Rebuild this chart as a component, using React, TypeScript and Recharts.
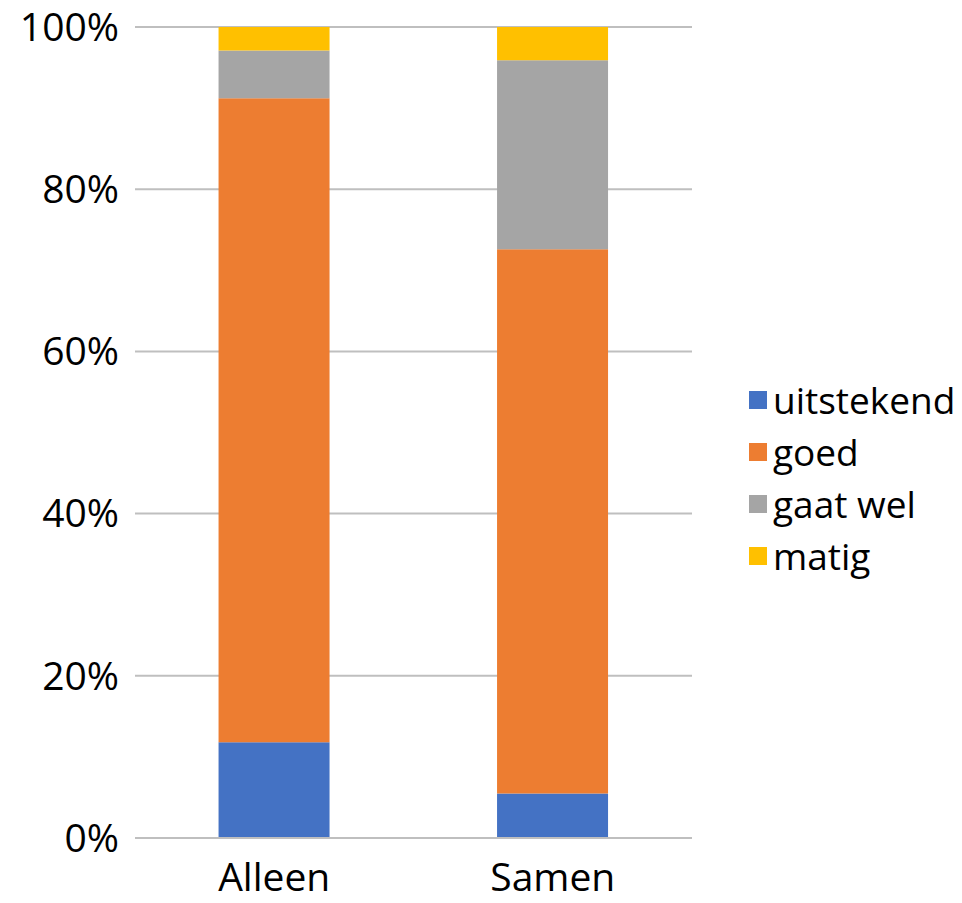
import React from "react";
import { Bar, BarChart, CartesianGrid, XAxis, YAxis } from "recharts";

const categories = ["Alleen", "Samen"];
const uitstekend = [11.8, 5.5];
const goed = [79.4, 67.1];
const gaatWel = [5.9, 23.3];
const matig = [2.9, 4.1];
const yTicks = [0, 20, 40, 60, 80, 100];

const series = [
  { key: "uitstekend", label: "uitstekend", values: uitstekend, color: "#4472C4" },
  { key: "goed", label: "goed", values: goed, color: "#ED7D31" },
  { key: "gaatWel", label: "gaat wel", values: gaatWel, color: "#A5A5A5" },
  { key: "matig", label: "matig", values: matig, color: "#FFC000" },
];

const data = categories.map((name, i) => {
  const row: Record<string, any> = { name };
  series.forEach((s) => {
    row[s.key] = s.values[i];
  });
  return row;
});

const font = "'Open Sans', sans-serif";

// legend drawn beside the chart so it doesn't shift the plot area
function LegendBox() {
  return (
    <div style={{ position: "absolute", left: 749, top: 374, fontFamily: font, fontSize: 37, color: "#000" }}>
      {series.map((s) => (
        <div key={s.key} style={{ display: "flex", alignItems: "center", height: 52 }}>
          <span style={{ width: 18, height: 18, flexShrink: 0, background: s.color, marginRight: 6 }} />
          <span style={{ lineHeight: "52px", whiteSpace: "nowrap" }}>{s.label}</span>
        </div>
      ))}
    </div>
  );
}

export default function App() {
  return (
    <div style={{ position: "absolute", left: 0, top: 0, width: 962, height: 903, background: "#fff" }}>
      <BarChart
        width={962}
        height={903}
        data={data}
        margin={{ top: 27, right: 270, left: 0, bottom: 0 }}
        barCategoryGap="30%"
      >
        <CartesianGrid vertical={false} stroke="#BFBFBF" strokeWidth={2} />
        <XAxis
          dataKey="name"
          height={65}
          tickLine={false}
          tickSize={0}
          tickMargin={25}
          axisLine={{ stroke: "#BFBFBF", strokeWidth: 2 }}
          tick={{ fill: "#000", fontSize: 39, fontFamily: font }}
        />
        <YAxis
          width={135}
          domain={[0, 100]}
          ticks={yTicks}
          interval={0}
          tickFormatter={(v: number) => `${v}%`}
          axisLine={false}
          tickLine={false}
          tickSize={0}
          tickMargin={16}
          tick={{ fill: "#000", fontSize: 39, fontFamily: font }}
        />
        {series.map((s) => (
          <Bar key={s.key} dataKey={s.key} name={s.label} stackId="a" fill={s.color} isAnimationActive={false} />
        ))}
      </BarChart>
      <LegendBox />
    </div>
  );
}
